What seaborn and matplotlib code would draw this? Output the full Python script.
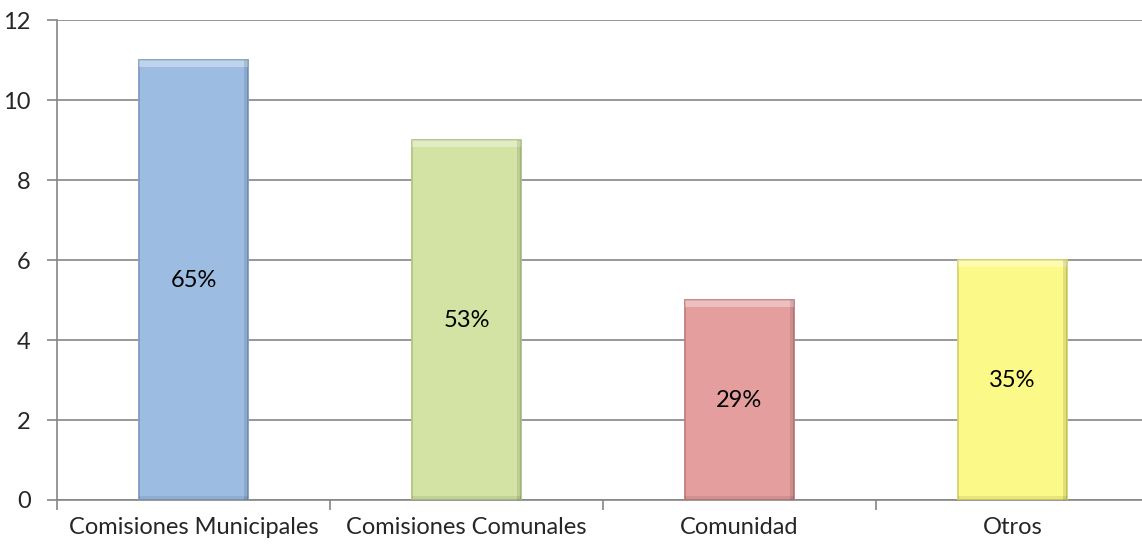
import numpy as np
import pandas as pd
import matplotlib
matplotlib.use("Agg")
import matplotlib.pyplot as plt
from matplotlib.patches import Rectangle
import seaborn as sns

categories = ["Comisiones Municipales", "Comisiones Comunales", "Comunidad", "Otros"]
counts = [11, 9, 5, 6]
percent_labels = ["65%", "53%", "29%", "35%"]
bar_colors = ["#9DBCE2", "#D2E3A4", "#E49E9E", "#FBF987"]
edge_colors = ["#7F9CC2", "#B0C483", "#C27D7D", "#D6D36A"]

sns.set_style("white")
plt.rcParams['font.family'] = ['Lato', 'DejaVu Sans']

df = pd.DataFrame({"cat": categories, "n": counts})

fig = plt.figure(figsize=(11.42, 5.47), dpi=100)
# plot area runs a bit past the right edge, as in the source image
ax = fig.add_axes([0.05, 0.086, 0.956, 0.877])

ax.yaxis.grid(True, color="#868686", linewidth=1.2)
ax.set_axisbelow(True)

sns.barplot(data=df, x="cat", y="n", hue="cat", palette=bar_colors,
            saturation=1, width=0.40, legend=False, ax=ax, zorder=3)

# soft bevel look: light band on top, darker strip on the right
for patch, ec in zip(ax.patches, edge_colors):
    patch.set_edgecolor(ec)
    patch.set_linewidth(1.3)
    x, w, h = patch.get_x(), patch.get_width(), patch.get_height()
    ax.add_patch(Rectangle((x, h - 0.17), w, 0.17, facecolor="white",
                           alpha=0.35, lw=0, zorder=3.5))
    ax.add_patch(Rectangle((x + w - 0.014, 0), 0.014, h, facecolor="black",
                           alpha=0.10, lw=0, zorder=3.5))
    ax.add_patch(Rectangle((x, 0), w, 0.1, facecolor="black",
                           alpha=0.08, lw=0, zorder=3.5))

for i, (v, lab) in enumerate(zip(counts, percent_labels)):
    ax.text(i, v / 2, lab, ha="center", va="center", fontsize=17,
            color="black", zorder=4)

ax.set_ylim(0, 12)
ax.set_xlim(-0.5, len(categories) - 0.5)
ax.set_yticks(range(0, 13, 2))
ax.set_xlabel("")
ax.set_ylabel("")

ax.set_xticks(np.arange(-0.5, len(categories), 1.0), minor=True)
ax.tick_params(axis="x", which="major", length=0, pad=12, labelsize=17)
ax.tick_params(axis="x", which="minor", length=7, width=1.2, color="#868686",
               direction="out", bottom=True)
ax.tick_params(axis="y", length=7, width=1.2, color="#868686", direction="out",
               left=True, pad=12, labelsize=17)

for s in ["top", "right"]:
    ax.spines[s].set_visible(False)
for s in ["left", "bottom"]:
    ax.spines[s].set_color("#868686")
    ax.spines[s].set_linewidth(1.2)

fig.savefig("out.png", dpi=100)
